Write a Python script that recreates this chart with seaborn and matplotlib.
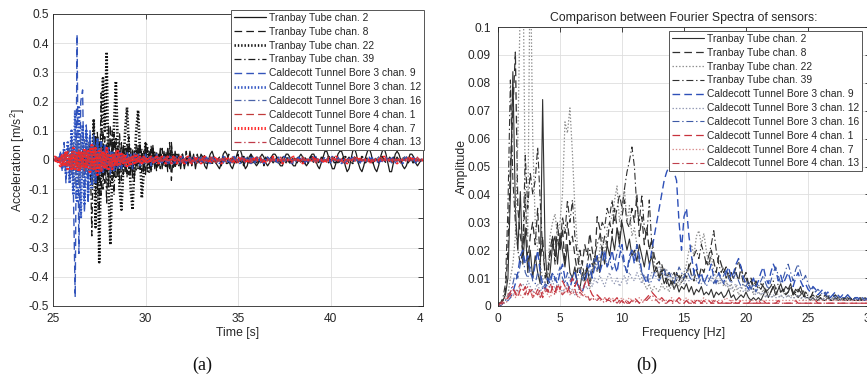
"""Two-panel sensor comparison: acceleration records (a) and their Fourier spectra (b)."""
import numpy as np
import matplotlib
matplotlib.use("Agg")
import matplotlib.pyplot as plt
import seaborn as sns

# ---------------------------------------------------------------- data
names = [
    "Tranbay Tube chan. 2", "Tranbay Tube chan. 8", "Tranbay Tube chan. 22",
    "Tranbay Tube chan. 39", "Caldecott Tunnel Bore 3 chan. 9",
    "Caldecott Tunnel Bore 3 chan. 12", "Caldecott Tunnel Bore 3 chan. 16",
    "Caldecott Tunnel Bore 4 chan. 1", "Caldecott Tunnel Bore 4 chan. 7",
    "Caldecott Tunnel Bore 4 chan. 13",
]

# (a) acceleration, hundredths of m/s^2, sampled every 0.1 s from 25 s to 45 s
t_start, t_step = 25.0, 0.1
acc_tb2 = [
    0, 0, 0, 0, 0, 0, 0, 1, 0, -1, 1, -1, 2, -2, 1, -1, 2, -1, 1, -2,
    2, -3, 4, -2, 3, -5, 4, -3, 5, -4, 3, -4, 6, -3, 4, -5, 3, -2, 5, -4,
    4, -3, 2, -5, 3, -2, 4, -3, 2, -4, 6, -2, 3, -4, 5, -3, 2, -2, 4, -3,
    3, -2, 4, -3, 5, -2, 3, -1, 2, -3, 2, -3, 1, -2, 3, -1, 2, -3, 1, -1,
    2, 1, -2, -3, 0, 2, 3, 1, -1, -2, -3, -1, 2, 3, 2, 0, -2, -3, -1, 1,
    3, 4, 2, -1, -3, -2, 1, 2, 1, -1, -2, -1, 1, 2, 1, -1, -2, -1, 1, 2,
    2, 1, -1, -2, -2, 0, 2, 2, 1, -1, -2, -2, 0, 1, 2, 1, -1, -2, -1, 1,
    2, 2, 0, -2, -3, -1, 1, 3, 3, 1, -1, -3, -3, -1, 2, 3, 3, 1, -2, -4,
    -3, 0, 3, 4, 2, -1, -3, -4, -2, 1, 3, 4, 2, -1, -3, -4, -2, 1, 3, 4,
    2, -1, -4, -4, -1, 2, 3, 2, 0, -2, -3, -2, 0, 2, 2, 1, -1, -2, -1, 0,
    0,
]
acc_tb8 = [
    0, 0, 0, 0, 0, 0, 0, 0, 0, 0, 0, 1, -1, 1, -1, 2, -2, 1, -2, 2,
    -3, 5, -6, 8, -10, 7, -12, 10, -8, 6, -9, 12, -7, 9, -6, 5, -8, 6, -5, 4,
    -6, 8, -5, 4, -7, 5, -3, 6, -4, 3, -5, 4, -3, 5, -2, 3, -4, 2, -3, 4,
    -2, 3, -4, 6, -7, 2, -3, 2, -2, 1, 2, -2, 3, -1, 2, -2, 1, -1, 2, -1,
    1, -1, 2, -1, 0, 1, -2, 1, -1, 0, 1, -2, 1, 0, -1, 2, -1, 1, -1, 0,
    2, -1, 1, -2, 0, 1, -1, 2, -1, 0, 1, -1, 0, 1, -2, 1, 0, -1, 1, 0,
    -1, 1, 0, -1, 1, 0, -1, 1, -1, 0, 1, 0, -1, 1, 0, -1, 1, 0, -1, 1,
    0, -1, 1, 0, -1, 1, 0, -1, 0, 1, 0, 1, -1, 0, 1, -1, 0, 1, -1, 0,
    1, 0, -1, 1, 0, -1, 0, 1, 0, -1, 0, 1, 0, -1, 1, 0, -1, 0, 1, 0,
    -1, 0, 1, 0, -1, 0, 1, 0, -1, 0, 1, 0, -1, 0, 1, 0, -1, 0, 0, 0,
    0,
]
acc_tb22 = [
    0, 0, 0, 0, 0, 0, 0, 0, 0, 0, 0, 0, 0, 0, 0, 1, -1, 2, -3, 4,
    3, -8, 14, -23, 8, -35, 5, 28, 10, 37, -10, -29, -5, 12, 27, 5, -10, -17, -3, 10,
    18, 5, -10, -17, -2, 10, 17, 3, -13, -5, 6, 4, -4, -3, 3, 2, -2, -1, 2, -1,
    1, -2, 1, -1, 2, -1, 1, -1, 1, 0, 1, -1, 0, 1, -1, 0, 1, 0, -1, 0,
    0, 1, 0, -1, 0, 0, 1, 0, -1, 0, 0, 0, 1, 0, -1, 0, 0, 1, 0, 0,
    -1, 0, 0, 1, 0, 0, -1, 0, 0, 0, 1, 0, 0, -1, 0, 0, 0, 1, 0, 0,
    0, -1, 0, 0, 0, 1, 0, 0, -1, 0, 0, 0, 1, 0, 0, 0, -1, 0, 0, 0,
    1, 0, 0, 0, -1, 0, 0, 0, 0, 1, 0, 0, 0, -1, 0, 0, 0, 0, 1, 0,
    0, 0, -1, 0, 0, 0, 0, 1, 0, 0, 0, 0, -1, 0, 0, 0, 0, 0, 1, 0,
    0, 0, 0, -1, 0, 0, 0, 0, 0, 0, 1, 0, 0, 0, 0, -1, 0, 0, 0, 0,
    0,
]
acc_tb39 = [
    0, 0, 0, 0, 0, 0, 0, 0, 0, 0, 0, 0, 1, -1, 2, -2, 3, -3, 4, -5,
    6, -26, 14, -12, 10, -18, 23, -10, 8, -15, 12, -9, 10, -12, 8, -6, 9, -7, 5, -4,
    6, -5, 4, -6, 3, -4, 5, -3, 4, -2, 3, -4, 2, -3, 4, -2, 3, -2, 2, -1,
    2, -1, 3, -2, 6, -3, 2, -2, 1, -1, 1, -2, 1, -1, 2, -1, 1, 0, -1, 1,
    0, -1, 1, 0, -1, 1, 0, 0, -1, 0, 1, 0, -1, 1, 0, -1, 0, 1, 0, -1,
    1, 0, -1, 0, 1, 0, -1, 1, 0, 0, -1, 0, 1, 0, -1, 0, 1, 0, 0, -1,
    0, 1, 0, -1, 0, 0, 1, 0, -1, 0, 1, 0, 0, -1, 0, 1, 0, 0, -1, 0,
    0, 1, 0, -1, 0, 0, 1, 0, 0, -1, 0, 0, 1, 0, -1, 0, 0, 1, 0, 0,
    -1, 0, 0, 1, 0, 0, -1, 0, 0, 0, 1, 0, 0, -1, 0, 0, 1, 0, 0, 0,
    -1, 0, 0, 0, 1, 0, 0, -1, 0, 0, 0, 1, 0, 0, 0, -1, 0, 0, 0, 0,
    0,
]
acc_c3_9 = [
    0, 0, 1, -1, 3, -4, 6, -8, 5, -6, 8, -10, -47, 43, -32, 20, 24, -18, 12, -15,
    10, -8, 9, -6, 7, -5, 6, -4, 5, -3, 4, -5, 3, -4, 3, -2, 3, -3, 2, -2,
    3, -2, 2, -3, 2, -1, 2, -2, 1, -1, 2, -1, 1, -2, 1, -1, 2, -1, 1, -1,
    1, -1, 1, -1, 0, 1, -1, 1, 0, -1, 1, 0, -1, 1, 0, -1, 1, 0, -1, 0,
    1, -1, 0, 1, 0, -1, 1, 0, -1, 0, 0, 1, -1, 0, 1, 0, -1, 0, 1, 0,
    -1, 0, 1, 0, -1, 0, 0, 1, 0, -1, 0, 1, 0, 0, -1, 0, 1, 0, 0, -1,
    0, 0, 1, 0, -1, 0, 0, 1, 0, 0, -1, 0, 0, 1, 0, 0, -1, 0, 0, 0,
    1, 0, 0, -1, 0, 0, 0, 1, 0, 0, -1, 0, 0, 0, 1, 0, 0, 0, -1, 0,
    0, 0, 1, 0, 0, 0, -1, 0, 0, 0, 0, 1, 0, 0, 0, -1, 0, 0, 0, 0,
    1, 0, 0, 0, 0, -1, 0, 0, 0, 0, 0, 1, 0, 0, 0, 0, -1, 0, 0, 0,
    0,
]
acc_c3_12 = [
    0, 0, 1, -1, 2, -3, 4, -5, 6, -8, 10, -12, 17, -14, 18, -20, 12, -15, 10, -12,
    8, -10, 6, -8, 7, -5, 6, -4, 5, -3, 4, -3, 3, -4, 2, -3, 3, -2, 2, -2,
    2, -2, 1, -2, 2, -1, 1, -1, 1, -1, 1, -1, 1, -1, 1, 0, -1, 1, 0, -1,
    1, 0, -1, 1, 0, -1, 0, 1, 0, -1, 1, 0, -1, 0, 1, 0, -1, 0, 1, 0,
    -1, 0, 1, 0, 0, -1, 0, 1, 0, 0, -1, 0, 1, 0, 0, -1, 0, 0, 1, 0,
    0, -1, 0, 0, 1, 0, 0, -1, 0, 0, 1, 0, 0, 0, -1, 0, 0, 1, 0, 0,
    0, -1, 0, 0, 0, 1, 0, 0, 0, -1, 0, 0, 0, 1, 0, 0, 0, -1, 0, 0,
    0, 0, 1, 0, 0, 0, -1, 0, 0, 0, 0, 1, 0, 0, 0, 0, -1, 0, 0, 0,
    0, 1, 0, 0, 0, 0, -1, 0, 0, 0, 0, 0, 1, 0, 0, 0, 0, -1, 0, 0,
    0, 0, 0, 1, 0, 0, 0, 0, 0, -1, 0, 0, 0, 0, 0, 1, 0, 0, 0, 0,
    0,
]
acc_c3_16 = [
    0, 0, 0, 1, -1, 2, -2, 3, -3, 4, -5, 6, -8, 7, -9, 8, -6, 7, -5, 6,
    -4, 5, -6, 4, -3, 4, -2, 3, -3, 2, -2, 3, -2, 2, -1, 2, -2, 1, -1, 1,
    -1, 1, -1, 1, 0, -1, 1, 0, -1, 1, 0, -1, 1, 0, -1, 0, 1, 0, -1, 0,
    1, 0, -1, 0, 1, 0, 0, -1, 0, 1, 0, 0, -1, 0, 1, 0, 0, -1, 0, 0,
    1, 0, 0, -1, 0, 0, 1, 0, 0, -1, 0, 0, 0, 1, 0, 0, -1, 0, 0, 0,
    1, 0, 0, 0, -1, 0, 0, 0, 1, 0, 0, 0, -1, 0, 0, 0, 0, 1, 0, 0,
    0, 0, -1, 0, 0, 0, 0, 1, 0, 0, 0, 0, -1, 0, 0, 0, 0, 0, 1, 0,
    0, 0, 0, 0, -1, 0, 0, 0, 0, 0, 1, 0, 0, 0, 0, 0, -1, 0, 0, 0,
    0, 0, 0, 1, 0, 0, 0, 0, 0, -1, 0, 0, 0, 0, 0, 0, 1, 0, 0, 0,
    0, 0, 0, -1, 0, 0, 0, 0, 0, 0, 1, 0, 0, 0, 0, 0, 0, -1, 0, 0,
    0,
]
acc_c4_1 = [
    0, 0, 1, -1, 1, -2, 2, -2, 3, -2, 3, -3, 2, -3, 4, -3, 3, -4, 3, -2,
    4, -3, 5, -4, 3, -3, 4, -2, 3, -3, 2, -3, 2, -2, 3, -2, 2, -1, 2, -2,
    1, -2, 1, -1, 2, -1, 1, -1, 1, -1, 1, -1, 1, 0, -1, 1, 0, -1, 1, 0,
    -1, 1, 0, -1, 0, 1, 0, -1, 1, 0, -1, 0, 1, 0, -1, 0, 1, 0, -1, 0,
    0, 1, 0, -1, 0, 0, 1, 0, -1, 0, 0, 1, 0, 0, -1, 0, 0, 1, 0, 0,
    -1, 0, 0, 1, 0, 0, 0, -1, 0, 0, 0, 1, 0, 0, 0, -1, 0, 0, 0, 1,
    0, 0, 0, 0, -1, 0, 0, 0, 0, 1, 0, 0, 0, 0, -1, 0, 0, 0, 0, 0,
    1, 0, 0, 0, 0, -1, 0, 0, 0, 0, 0, 1, 0, 0, 0, 0, 0, -1, 0, 0,
    0, 0, 0, 1, 0, 0, 0, 0, 0, 0, -1, 0, 0, 0, 0, 0, 0, 1, 0, 0,
    0, 0, 0, 0, -1, 0, 0, 0, 0, 0, 0, 0, 1, 0, 0, 0, 0, 0, 0, 0,
    0,
]
acc_c4_7 = [
    0, 1, -1, 1, -2, 2, -2, 3, -3, 2, -3, 4, -3, 3, -4, 3, -2, 4, -3, 3,
    -4, 5, -3, 4, -5, 3, -4, 3, -3, 4, -3, 2, -3, 2, -2, 3, -2, 2, -1, 2,
    -2, 1, -2, 1, -1, 2, -1, 1, -1, 1, -1, 1, -1, 1, 0, -1, 1, -1, 0, 1,
    0, -1, 1, 0, -1, 1, 0, -1, 0, 1, 0, -1, 0, 1, 0, -1, 0, 1, 0, 0,
    -1, 0, 1, 0, 0, -1, 0, 0, 1, 0, 0, -1, 0, 0, 1, 0, 0, 0, -1, 0,
    0, 1, 0, 0, 0, -1, 0, 0, 0, 1, 0, 0, 0, 0, -1, 0, 0, 0, 0, 1,
    0, 0, 0, 0, -1, 0, 0, 0, 0, 0, 1, 0, 0, 0, 0, -1, 0, 0, 0, 0,
    0, 1, 0, 0, 0, 0, 0, -1, 0, 0, 0, 0, 0, 1, 0, 0, 0, 0, 0, -1,
    0, 0, 0, 0, 0, 1, 0, 0, 0, 0, 0, 0, -1, 0, 0, 0, 0, 0, 0, 1,
    0, 0, 0, 0, 0, 0, -1, 0, 0, 0, 0, 0, 0, 0, 1, 0, 0, 0, 0, 0,
    0,
]
acc_c4_13 = [
    0, 0, 0, 1, -1, 1, -1, 2, -2, 2, -2, 3, -2, 2, -3, 2, -2, 3, -2, 2,
    -3, 2, -3, 3, -2, 2, -3, 2, -2, 2, -2, 1, -2, 2, -1, 1, -2, 1, -1, 1,
    -1, 1, -1, 1, 0, -1, 1, 0, -1, 1, 0, -1, 1, 0, 0, -1, 0, 1, 0, -1,
    0, 1, 0, 0, -1, 0, 1, 0, 0, -1, 0, 0, 1, 0, 0, -1, 0, 0, 1, 0,
    0, 0, -1, 0, 0, 1, 0, 0, 0, -1, 0, 0, 0, 1, 0, 0, 0, -1, 0, 0,
    0, 0, 1, 0, 0, 0, 0, -1, 0, 0, 0, 0, 1, 0, 0, 0, 0, -1, 0, 0,
    0, 0, 0, 1, 0, 0, 0, 0, 0, -1, 0, 0, 0, 0, 0, 1, 0, 0, 0, 0,
    0, 0, -1, 0, 0, 0, 0, 0, 0, 1, 0, 0, 0, 0, 0, 0, -1, 0, 0, 0,
    0, 0, 0, 0, 1, 0, 0, 0, 0, 0, 0, 0, -1, 0, 0, 0, 0, 0, 0, 0,
    1, 0, 0, 0, 0, 0, 0, 0, -1, 0, 0, 0, 0, 0, 0, 0, 0, 1, 0, 0,
    0,
]

# (b) Fourier amplitude, thousandths, every 0.2 Hz from 0 to 30 Hz
f_step = 0.2
spec_tb2 = [
    1, 1, 2, 4, 10, 40, 84, 35, 20, 41, 15, 28, 12, 20, 10, 18, 12, 8, 74, 20,
    8, 12, 22, 25, 15, 26, 20, 14, 22, 12, 10, 14, 8, 6, 12, 9, 14, 8, 12, 16,
    18, 12, 20, 15, 22, 18, 25, 20, 28, 22, 30, 25, 20, 24, 18, 20, 16, 22, 18, 14,
    20, 15, 18, 12, 14, 10, 12, 8, 10, 7, 9, 6, 8, 5, 7, 6, 8, 5, 7, 4,
    6, 5, 7, 4, 5, 4, 6, 3, 5, 4, 5, 3, 4, 6, 3, 4, 2, 3, 4, 3,
    5, 3, 2, 3, 2, 3, 2, 4, 6, 3, 5, 7, 4, 6, 8, 5, 7, 6, 8, 4,
    6, 5, 7, 4, 3, 3, 2, 3, 2, 2, 3, 2, 2, 3, 2, 2, 3, 2, 2, 3,
    2, 2, 3, 2, 2, 2, 2, 2, 3, 2, 2,
]
spec_tb8 = [
    1, 1, 2, 5, 20, 50, 70, 91, 35, 25, 20, 40, 15, 25, 30, 22, 35, 15, 25, 10,
    12, 20, 25, 18, 24, 20, 28, 15, 30, 22, 25, 18, 12, 20, 15, 22, 18, 26, 20, 15,
    32, 28, 20, 25, 22, 30, 26, 35, 28, 24, 32, 38, 30, 28, 35, 30, 40, 25, 32, 22,
    28, 20, 24, 18, 15, 16, 12, 14, 10, 12, 10, 8, 12, 9, 11, 12, 10, 15, 11, 9,
    13, 10, 14, 12, 16, 14, 20, 16, 12, 18, 15, 12, 14, 10, 12, 10, 12, 9, 14, 10,
    12, 8, 10, 7, 9, 7, 6, 8, 5, 6, 5, 7, 4, 6, 5, 6, 4, 5, 7, 5,
    4, 6, 5, 3, 5, 4, 3, 5, 4, 3, 4, 3, 4, 3, 3, 3, 4, 3, 3, 2,
    3, 2, 3, 2, 3, 2, 3, 2, 2, 2, 2,
]
spec_tb22 = [
    0, 1, 1, 2, 4, 10, 15, 25, 60, 110, 130, 40, 25, 130, 60, 30, 20, 15, 10, 8,
    12, 25, 30, 33, 25, 30, 40, 66, 62, 71, 55, 35, 22, 15, 10, 8, 10, 6, 12, 15,
    12, 20, 25, 18, 28, 30, 32, 38, 43, 30, 35, 42, 30, 36, 25, 28, 22, 15, 10, 8,
    6, 8, 5, 7, 6, 5, 8, 6, 7, 5, 8, 6, 10, 7, 9, 12, 15, 20, 22, 18,
    25, 27, 22, 26, 20, 15, 18, 12, 10, 8, 10, 7, 9, 6, 8, 5, 7, 4, 6, 8,
    6, 5, 7, 4, 6, 5, 4, 6, 3, 5, 4, 3, 5, 4, 3, 4, 5, 3, 4, 3,
    3, 4, 3, 2, 3, 3, 2, 3, 2, 2, 2, 3, 2, 3, 2, 3, 2, 2, 3, 2,
    2, 3, 2, 2, 2, 2, 2, 3, 2, 2, 2,
]
spec_tb39 = [
    1, 1, 3, 8, 35, 81, 45, 30, 20, 15, 20, 54, 35, 48, 40, 45, 57, 38, 20, 12,
    10, 18, 25, 15, 30, 20, 32, 26, 38, 30, 38, 25, 18, 12, 15, 10, 15, 20, 14, 18,
    22, 25, 30, 28, 35, 32, 38, 30, 35, 40, 35, 42, 48, 52, 57, 50, 35, 30, 40, 28,
    25, 38, 22, 15, 12, 10, 15, 12, 8, 10, 8, 12, 9, 11, 8, 10, 12, 14, 16, 18,
    20, 17, 22, 19, 15, 18, 22, 27, 20, 15, 12, 14, 10, 12, 9, 11, 14, 16, 12, 8,
    10, 7, 9, 6, 8, 6, 8, 7, 5, 6, 7, 9, 6, 8, 5, 6, 4, 5, 7, 4,
    5, 3, 4, 6, 3, 4, 3, 4, 3, 2, 3, 2, 3, 4, 2, 3, 2, 3, 2, 2,
    2, 3, 2, 3, 2, 2, 2, 3, 2, 2, 2,
]
spec_c3_9 = [
    0, 0, 1, 1, 2, 3, 5, 8, 12, 18, 20, 15, 18, 12, 10, 15, 20, 12, 8, 6,
    10, 8, 12, 10, 8, 12, 15, 10, 8, 6, 10, 12, 8, 6, 5, 8, 12, 15, 10, 14,
    18, 12, 15, 20, 14, 16, 20, 15, 12, 18, 22, 15, 12, 18, 20, 15, 22, 18, 12, 10,
    8, 14, 20, 25, 30, 35, 40, 45, 48, 50, 50, 48, 45, 30, 20, 32, 35, 25, 18, 12,
    15, 10, 12, 8, 10, 12, 15, 10, 8, 12, 10, 8, 12, 14, 10, 12, 15, 17, 14, 10,
    8, 6, 8, 10, 7, 9, 12, 14, 10, 8, 12, 15, 13, 9, 11, 8, 10, 12, 9, 7,
    10, 12, 9, 7, 8, 6, 5, 7, 6, 4, 5, 6, 4, 5, 3, 4, 5, 4, 3, 4,
    3, 4, 3, 2, 3, 3, 2, 3, 2, 3, 2,
]
spec_c3_12 = [
    0, 0, 1, 1, 2, 3, 4, 6, 5, 7, 8, 6, 9, 7, 5, 6, 8, 5, 7, 6,
    5, 7, 9, 6, 8, 7, 5, 6, 8, 5, 6, 4, 5, 7, 6, 8, 6, 9, 7, 10,
    8, 11, 9, 7, 10, 12, 9, 8, 10, 7, 9, 11, 8, 12, 10, 9, 12, 10, 8, 11,
    10, 9, 12, 11, 13, 14, 12, 11, 13, 10, 12, 10, 11, 9, 10, 8, 10, 9, 11, 10,
    9, 10, 8, 9, 10, 10, 9, 10, 8, 9, 8, 9, 7, 8, 6, 7, 8, 6, 7, 5,
    6, 5, 7, 5, 4, 5, 4, 5, 3, 4, 3, 4, 3, 3, 4, 3, 3, 4, 3, 3,
    3, 4, 3, 3, 3, 3, 3, 2, 3, 3, 3, 2, 3, 3, 2, 3, 2, 3, 2, 3,
    2, 3, 2, 2, 3, 2, 2, 3, 2, 2, 2,
]
spec_c3_16 = [
    0, 0, 1, 2, 3, 5, 8, 12, 10, 15, 18, 12, 10, 14, 9, 8, 12, 10, 6, 8,
    7, 10, 12, 9, 11, 14, 10, 8, 12, 9, 11, 8, 10, 13, 9, 12, 15, 11, 14, 17,
    13, 16, 20, 18, 14, 17, 13, 15, 19, 22, 18, 14, 12, 16, 20, 18, 22, 16, 12, 10,
    11, 8, 9, 12, 10, 9, 11, 13, 10, 12, 10, 8, 11, 14, 12, 10, 13, 11, 9, 12,
    10, 8, 11, 9, 7, 9, 11, 8, 10, 12, 9, 11, 13, 10, 8, 10, 12, 9, 7, 8,
    7, 9, 6, 8, 5, 7, 9, 11, 8, 6, 9, 12, 14, 11, 8, 10, 13, 15, 12, 9,
    13, 15, 12, 9, 11, 8, 6, 7, 5, 6, 5, 4, 5, 3, 4, 4, 3, 4, 3, 3,
    3, 4, 3, 2, 3, 2, 3, 2, 2, 2, 2,
]
spec_c4_1 = [
    0, 1, 1, 2, 3, 4, 6, 5, 3, 6, 5, 7, 4, 6, 3, 5, 4, 6, 3, 5,
    6, 4, 7, 5, 8, 6, 9, 7, 5, 8, 10, 7, 9, 6, 5, 8, 10, 6, 4, 3,
    4, 3, 2, 3, 2, 3, 2, 2, 3, 1, 2, 1, 2, 1, 2, 3, 2, 1, 2, 2,
    3, 4, 5, 4, 3, 2, 3, 2, 1, 2, 2, 1, 2, 3, 2, 1, 2, 1, 2, 1,
    2, 1, 1, 2, 1, 2, 1, 1, 2, 1, 1, 2, 1, 1, 1, 2, 1, 1, 2, 1,
    1, 1, 2, 1, 1, 1, 1, 2, 1, 1, 1, 1, 1, 2, 1, 1, 1, 1, 1, 1,
    2, 1, 1, 1, 1, 1, 1, 1, 2, 1, 1, 1, 1, 1, 1, 1, 1, 1, 1, 1,
    1, 1, 1, 1, 1, 1, 1, 1, 1, 1, 1,
]
spec_c4_7 = [
    0, 0, 1, 1, 2, 3, 4, 3, 5, 4, 3, 5, 4, 6, 3, 4, 5, 3, 4, 6,
    4, 3, 5, 4, 6, 5, 4, 7, 5, 4, 6, 5, 4, 3, 5, 4, 3, 2, 3, 2,
    3, 2, 2, 3, 2, 2, 3, 2, 2, 2, 3, 2, 2, 3, 2, 2, 2, 3, 2, 2,
    2, 3, 2, 2, 2, 3, 2, 2, 2, 2, 3, 2, 2, 2, 2, 2, 3, 2, 2, 2,
    2, 2, 2, 3, 2, 2, 2, 2, 2, 2, 2, 2, 3, 2, 2, 2, 2, 2, 2, 2,
    2, 2, 2, 2, 2, 2, 2, 2, 2, 2, 2, 2, 2, 2, 2, 2, 2, 2, 2, 2,
    2, 2, 2, 2, 2, 2, 2, 2, 2, 2, 2, 2, 2, 2, 2, 2, 2, 2, 2, 2,
    2, 2, 2, 2, 2, 2, 2, 2, 2, 2, 2,
]
spec_c4_13 = [
    0, 1, 2, 3, 4, 5, 7, 4, 6, 8, 6, 4, 7, 5, 6, 4, 6, 3, 5, 7,
    5, 8, 6, 4, 7, 6, 4, 5, 7, 5, 4, 6, 3, 5, 4, 3, 4, 2, 3, 2,
    2, 3, 2, 1, 2, 2, 1, 2, 1, 2, 1, 2, 1, 1, 2, 1, 2, 1, 1, 2,
    2, 3, 4, 3, 2, 1, 2, 1, 1, 2, 1, 1, 2, 1, 1, 1, 2, 1, 1, 1,
    1, 2, 1, 1, 1, 1, 1, 2, 1, 1, 1, 1, 1, 1, 2, 1, 1, 1, 1, 1,
    1, 1, 1, 1, 1, 2, 1, 1, 1, 1, 1, 1, 1, 1, 1, 1, 1, 1, 1, 1,
    1, 1, 1, 1, 1, 1, 1, 1, 1, 1, 1, 1, 1, 1, 1, 1, 1, 1, 1, 1,
    1, 1, 1, 1, 1, 1, 1, 1, 1, 1, 1,
]

acc_series = [acc_tb2, acc_tb8, acc_tb22, acc_tb39, acc_c3_9, acc_c3_12,
              acc_c3_16, acc_c4_1, acc_c4_7, acc_c4_13]
spec_series = [spec_tb2, spec_tb8, spec_tb22, spec_tb39, spec_c3_9, spec_c3_12,
               spec_c3_16, spec_c4_1, spec_c4_7, spec_c4_13]

acc_yticks = [-0.5, -0.4, -0.3, -0.2, -0.1, 0, 0.1, 0.2, 0.3, 0.4, 0.5]
acc_xticks = [25, 30, 35, 40, 45]
spec_yticks = [0, 0.01, 0.02, 0.03, 0.04, 0.05, 0.06, 0.07, 0.08, 0.09, 0.1]
spec_xticks = [0, 5, 10, 15, 20, 25, 30]

# ---------------------------------------------------------------- styles
SOLID = "-"
DASH = (0, (5.5, 3))
DOT = (0, (1, 1.4))
DASHDOT = (0, (5, 2, 1, 2))
linestyles = [SOLID, DASH, DOT, DASHDOT, DASH, DOT, DASHDOT, DASH, DOT, DASHDOT]

# (color, linewidth) per series, panel (a) and panel (b)
style_a = [("#1a1a1a", 0.9), ("#1a1a1a", 0.9), ("#111111", 1.9), ("#1a1a1a", 0.9),
           ("#3355bb", 1.0), ("#2a4fc0", 1.9), ("#4a62a8", 0.9),
           ("#c23a3a", 0.9), ("#ff2424", 2.2), ("#c03a48", 0.9)]
style_b = [("#303030", 0.8), ("#303030", 0.9), ("#8a8a8a", 0.9), ("#303030", 0.8),
           ("#2e50b8", 1.0), ("#8f96b2", 0.9), ("#3d5aa6", 0.8),
           ("#c8323c", 0.9), ("#d88a8a", 0.9), ("#c0404c", 0.8)]

W, H = 867, 374
TXT = "#262626"
FS = 8.8

sns.set_theme(style="white")
plt.rcParams["font.family"] = ["Liberation Sans", "DejaVu Sans"]
plt.rcParams["mathtext.fontset"] = "custom"
plt.rcParams["mathtext.rm"] = "Liberation Sans"
plt.rcParams["mathtext.it"] = "Liberation Sans:italic"
plt.rcParams["axes.unicode_minus"] = False
plt.rcParams["lines.scale_dashes"] = False

fig = plt.figure(figsize=(W / 100, H / 100), dpi=100)
ax1 = fig.add_axes([53 / W, 1 - 306 / H, 370 / W, 292 / H])
ax2 = fig.add_axes([498 / W, 1 - 306 / H, 372 / W, 279 / H])


def fmt(v):
    return f"{round(v, 3):g}"


def style_axes(ax, xticks, yticks, xlim, ylim, ypad):
    ax.set_xlim(*xlim)
    ax.set_ylim(*ylim)
    ax.set_xticks(xticks)
    ax.set_yticks(yticks)
    ax.set_xticklabels([fmt(v) for v in xticks])
    ax.set_yticklabels([fmt(v) for v in yticks])
    ax.grid(True, color="#dedede", lw=0.6)
    ax.set_axisbelow(True)
    for s in ax.spines.values():
        s.set_color(TXT)
        s.set_linewidth(0.6)
        s.set_visible(True)
    ax.tick_params(axis="both", direction="in", length=3.5, width=0.6,
                   colors=TXT, labelsize=8.6, top=True, right=True)
    ax.tick_params(axis="x", pad=5)
    ax.tick_params(axis="y", pad=ypad)


def draw(ax, x, series, style):
    for name, vals, ls, (col, lw) in zip(names, series, linestyles, style):
        sns.lineplot(x=x, y=vals, ax=ax, color=col, lw=lw, ls=ls, label=name,
                     estimator=None, sort=False, legend=False)


def add_legend(ax, anchor):
    leg = ax.legend(loc="upper right", bbox_to_anchor=anchor,
                    bbox_transform=fig.transFigure, fontsize=7.4, frameon=True,
                    fancybox=False, framealpha=1, edgecolor="#555555",
                    borderpad=0.3, labelspacing=0.37, handlelength=3.1,
                    handletextpad=0.25, borderaxespad=0)
    leg.get_frame().set_linewidth(0.7)
    for tx in leg.get_texts():
        tx.set_color(TXT)
    return leg


# ---------------------------------------------------------------- (a)
n_t = len(acc_tb2)
assert all(len(s) == n_t for s in acc_series), [len(s) for s in acc_series]
t = t_start + t_step * np.arange(n_t)
draw(ax1, t, [np.array(s) * 0.01 for s in acc_series], style_a)
style_axes(ax1, acc_xticks, acc_yticks, (25, 45), (-0.5, 0.5), 3)
# the panel was cropped through the "45" label, only its "4" shows
ax1.set_xticklabels([fmt(v) for v in acc_xticks[:-1]] + ["4"])
ax1.get_xticklabels()[-1].set_horizontalalignment("right")
ax1.set_xlabel("Time [s]", fontsize=FS, color=TXT)
ax1.set_ylabel("Acceleration [m/s$^2$]", fontsize=FS, color=TXT)
ax1.xaxis.set_label_coords(0.5, -(327 - 306) / 292)
ax1.yaxis.set_label_coords(-(53 - 18) / 370, 0.5)
ax1.yaxis.label.set_verticalalignment("center")
add_legend(ax1, (424 / W, 1 - 10 / H))

# ---------------------------------------------------------------- (b)
n_f = len(spec_tb2)
assert all(len(s) == n_f for s in spec_series), [len(s) for s in spec_series]
f = f_step * np.arange(n_f)
draw(ax2, f, [np.array(s) * 0.001 for s in spec_series], style_b)
style_axes(ax2, spec_xticks, spec_yticks, (0, 30), (0, 0.1), 5)
ax2.set_xlabel("Frequency [Hz]", fontsize=FS, color=TXT)
ax2.set_ylabel("Amplitude", fontsize=FS, color=TXT)
ax2.xaxis.set_label_coords(0.5, -(327 - 306) / 279)
ax2.yaxis.set_label_coords(-(498 - 462) / 372, 0.5)
ax2.yaxis.label.set_verticalalignment("center")
ax2.set_title("Comparison between Fourier Spectra of sensors:", fontsize=8.8,
              color=TXT, pad=4)
add_legend(ax2, (862 / W, 1 - 31 / H))

# ---------------------------------------------------------------- captions
fig.text(202 / W, 1 - 365 / H, "(a)", ha="center", va="center", fontsize=13,
         family=["Liberation Serif", "DejaVu Serif"], color="#111111")
fig.text(647 / W, 1 - 365 / H, "(b)", ha="center", va="center", fontsize=13,
         family=["Liberation Serif", "DejaVu Serif"], color="#111111")

fig.savefig("out.png", dpi=100)
